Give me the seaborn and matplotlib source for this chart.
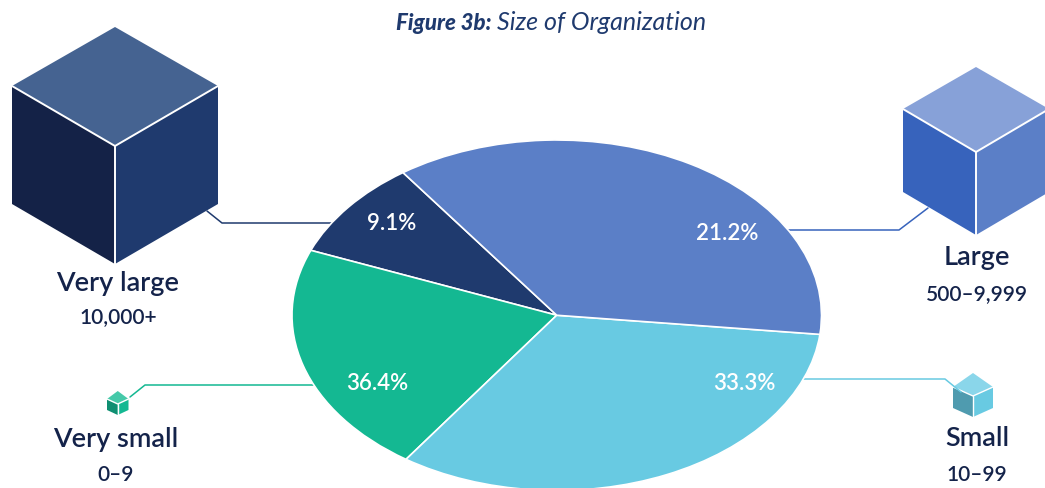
import matplotlib
matplotlib.use('Agg')
from matplotlib import pyplot as plt
from matplotlib.patches import Polygon
import seaborn as sns

# shares as drawn (wedge sizes), going round from the top left
slice_names = ['Very large', 'Very small', 'Small', 'Large']
slice_sizes = [9.1, 21.4, 32.9, 36.6]
# printed labels, the source prints them swapped on green and blue
slice_labels = ['9.1%', '36.4%', '33.3%', '21.2%']
slice_colors = ['#1F3A6E', '#14B892', '#68CAE2', '#5B7FC7']

group_names = ['Very large', 'Large', 'Very small', 'Small']
group_ranges = ['10,000+', '500\u20139,999', '0\u20139', '10\u201399']

W, H = 1045, 488

sns.set_theme(style='white')
plt.rcParams['font.family'] = ['Lato', 'DejaVu Sans']
palette = sns.color_palette(slice_colors)

NAVY = '#14234A'
TITLE = '#1F3A6E'


def draw_cube(ax, left, right, top, mid, center, bottom, faces):
    # faces: top, left, right
    cx = (left + right) / 2
    ax.add_patch(Polygon([(cx, top), (right, mid), (cx, center), (left, mid)], fc=faces[0], ec='none', zorder=2))
    ax.add_patch(Polygon([(left, mid), (cx, center), (cx, bottom), (left, bottom - (center - mid))],
                         fc=faces[1], ec='none', zorder=2))
    ax.add_patch(Polygon([(right, mid), (cx, center), (cx, bottom), (right, bottom - (center - mid))],
                         fc=faces[2], ec='none', zorder=2))
    lw = 1.4 if right - left > 60 else 1.0
    ax.plot([left, cx, right], [mid, center, mid], color='white', lw=lw, zorder=3)
    ax.plot([cx, cx], [center, bottom], color='white', lw=lw, zorder=3)


fig = plt.figure(figsize=(W / 100, H / 100), dpi=100)
back = fig.add_axes([0, 0, 1, 1])
back.set_xlim(0, W)
back.set_ylim(H, 0)
back.axis('off')

draw_cube(back, 12, 218, 27, 86, 146, 264, ['#456391', '#142247', '#1F3A6E'])
draw_cube(back, 903, 1049, 67, 109, 152, 235, ['#87A1D8', '#3763BC', '#5B7FC7'])
draw_cube(back, 953, 993, 373, 387, 396, 417, ['#8AD6EA', '#4F9BAF', '#68CAE2'])
draw_cube(back, 107, 128.5, 391, 399, 404, 415, ['#45C9A9', '#0F8F72', '#14B892'])

back.plot([207, 222, 335], [211, 223, 223], color='#1F3A6E', lw=1.1, zorder=4)
back.plot([928, 899, 788], [208, 230, 230], color='#3763BC', lw=1.1, zorder=4)
back.plot([961, 945, 803], [392, 379, 379], color='#68CAE2', lw=1.1, zorder=4)
back.plot([130, 145, 316], [397, 385, 385], color='#14B892', lw=1.1, zorder=4)

# ellipse: a pie squeezed into a wide axes
pie_ax = fig.add_axes([292 / W, 1 - 490.5 / H, 529.5 / W, 350.5 / H])
wedges, _ = pie_ax.pie(slice_sizes, colors=palette, startangle=125.5,
                       wedgeprops={'edgecolor': 'white', 'linewidth': 1.2, 'clip_on': False})
pie_ax.set_aspect('auto')
pie_ax.set_xlim(-1, 1)
pie_ax.set_ylim(-1, 1)
pie_ax.patch.set_alpha(0)

front = fig.add_axes([0, 0, 1, 1])
front.set_xlim(0, W)
front.set_ylim(H, 0)
front.axis('off')
front.patch.set_alpha(0)

label_pos = [(392, 223), (377, 383), (744, 384), (727, 234)]
for lab, (x, y) in zip(slice_labels, label_pos):
    front.text(x, y, lab, color='white', fontsize=16, weight='semibold', ha='center', va='center')

name_pos = [(118, 284), (977, 258), (116, 439), (977, 439)]
range_pos = [(118, 317), (977, 294), (116, 475), (977, 475)]
for name, rng, (nx, ny), (rx, ry) in zip(group_names, group_ranges, name_pos, range_pos):
    front.text(nx, ny, name, color=NAVY, fontsize=19.5, weight='semibold', ha='center', va='center')
    front.text(rx, ry, rng, color=NAVY, fontsize=15, weight='semibold', ha='center', va='center')

front.text(491, 23, 'Figure 3b:', color=TITLE, fontsize=16, style='italic', weight='black',
           ha='right', va='center')
front.text(497, 23, 'Size of Organization', color=TITLE, fontsize=18, style='italic', weight='normal',
           ha='left', va='center')

fig.savefig('out.png', dpi=100)
